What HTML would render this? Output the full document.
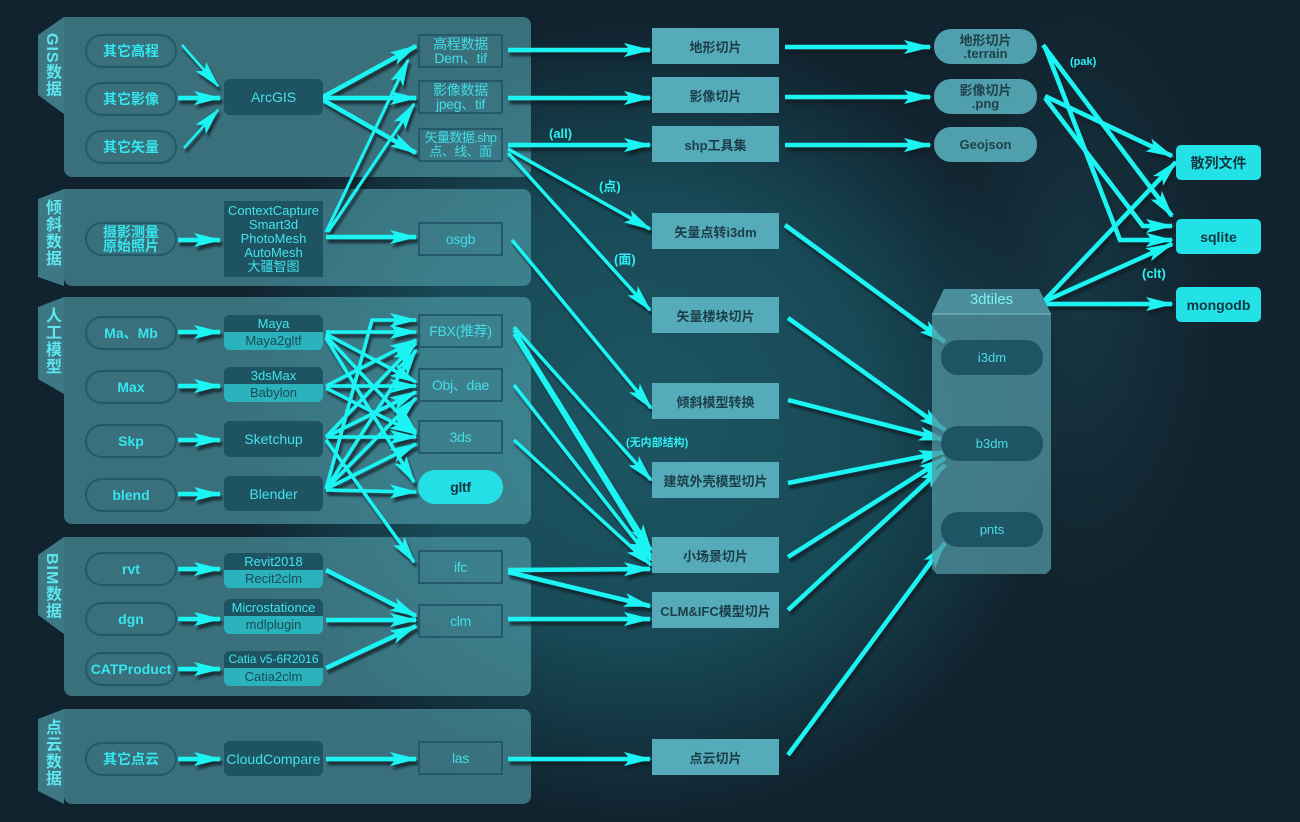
<!DOCTYPE html>
<html><head><meta charset="utf-8">
<style>
*{margin:0;padding:0;box-sizing:border-box}
body{width:1300px;height:822px;overflow:hidden;position:relative;font-family:"Liberation Sans","Noto Sans CJK SC",sans-serif;
background:radial-gradient(ellipse 420px 400px at 640px 420px,#1d5663 0%,#184a57 55%,#12303c 85%,#11232e 100%);}
.bg2{position:absolute;left:0;top:0;width:1300px;height:822px;background:radial-gradient(ellipse 200px 420px at 1080px 300px,rgba(30,90,105,0.35),rgba(0,0,0,0) 70%);}
.panel{position:absolute;left:64px;width:467px;background:rgba(82,160,172,0.62);border-radius:0 8px 8px 8px;}
.tab{position:absolute;left:38px;width:26px;}
.tab svg{position:absolute;left:0;top:0}
.tab span{position:absolute;left:0;width:26px;writing-mode:vertical-rl;text-orientation:mixed;color:#5fe6ef;font-weight:bold;font-size:16px;line-height:26px;text-align:center;letter-spacing:1px;white-space:nowrap}
.oval{position:absolute;left:85px;width:92px;height:34px;border:2.5px solid #23596a;border-radius:17px;color:#35e6ee;font-weight:bold;font-size:14px;display:flex;align-items:center;justify-content:center;text-align:center;line-height:14px}
.tool{position:absolute;left:224px;width:99px;background:#1e5362;border-radius:6px;color:#44e3ec;font-size:14px;display:flex;align-items:center;justify-content:center;text-align:center}
.split{position:absolute;left:224px;width:99px;height:35px;border-radius:6px;overflow:hidden;font-size:13px;text-align:center;white-space:nowrap}
.split .a{height:17px;background:#1e5362;color:#3fe6ee;line-height:17px}
.split .b{height:18px;background:#2ab3bd;color:#1b4a55;line-height:18px}
.fmt{position:absolute;left:418px;width:85px;height:34px;border:2px solid #23596a;color:#44dde6;font-size:14px;display:flex;align-items:center;justify-content:center;text-align:center;line-height:14px;white-space:nowrap;letter-spacing:-0.3px}
.mid{position:absolute;left:652px;width:127px;height:36px;background:#55abb9;color:#1b3d48;font-size:13px;display:flex;align-items:center;justify-content:center;font-weight:bold}
.p4{position:absolute;left:934px;width:103px;height:35px;background:#4f9fad;border-radius:17px;color:#1f3f49;font-size:13px;display:flex;align-items:center;justify-content:center;text-align:center;line-height:13px;font-weight:bold}
.rt{position:absolute;left:1176px;width:85px;height:35px;background:#22e2e7;border-radius:5px;color:#163640;font-size:14px;font-weight:bold;display:flex;align-items:center;justify-content:center}
.pd{position:absolute;left:941px;width:102px;height:35px;background:#1f5464;border-radius:17px;color:#48dce6;font-size:13px;display:flex;align-items:center;justify-content:center}
.lbl{position:absolute;color:#2ff0f5;font-size:13px;font-weight:bold}
</style></head><body>
<div class="bg2"></div>

<div class="panel" style="top:17px;height:160px"></div>
<div class="panel" style="top:189px;height:97px"></div>
<div class="panel" style="top:297px;height:227px"></div>
<div class="panel" style="top:537px;height:159px"></div>
<div class="panel" style="top:709px;height:95px"></div>

<div class="tab" style="top:17px;height:97px"><svg width="26" height="97"><polygon points="26,0 0,18 0,78 26,97" fill="#3d7884"/></svg><span style="top:16px">GIS数据</span></div>
<div class="tab" style="top:189px;height:97px"><svg width="26" height="97"><polygon points="26,0 0,10 0,88 26,97" fill="#3d7884"/></svg><span style="top:10px">倾斜数据</span></div>
<div class="tab" style="top:297px;height:97px"><svg width="26" height="97"><polygon points="26,0 0,10 0,82 26,97" fill="#3d7884"/></svg><span style="top:10px">人工模型</span></div>
<div class="tab" style="top:537px;height:97px"><svg width="26" height="97"><polygon points="26,0 0,18 0,78 26,97" fill="#3d7884"/></svg><span style="top:16px">BIM数据</span></div>
<div class="tab" style="top:709px;height:95px"><svg width="26" height="95"><polygon points="26,0 0,10 0,82 26,95" fill="#3d7884"/></svg><span style="top:10px">点云数据</span></div>

<svg style="position:absolute;left:0;top:0" width="1300" height="822">
<defs>
<marker id="a" markerUnits="userSpaceOnUse" markerWidth="28" markerHeight="16" refX="26" refY="8" orient="auto"><path d="M0,1 L28,8 L0,15 L6,8 Z" fill="#1ff4f4"/></marker>
<filter id="s" x="-10%" y="-10%" width="120%" height="120%"><feDropShadow dx="2" dy="4" stdDeviation="1" flood-color="#0a1a20" flood-opacity="0.75"/></filter>
</defs>
<g stroke="#1ff4f4" stroke-width="4.5" fill="none" marker-end="url(#a)" filter="url(#s)">
<line x1="182" y1="45" x2="218" y2="86" stroke-width="2.5"/>
<line x1="178" y1="98" x2="220" y2="98"/>
<line x1="184" y1="148" x2="218" y2="110" stroke-width="2.5"/>
<line x1="323" y1="97" x2="416" y2="46"/>
<line x1="323" y1="98" x2="416" y2="98"/>
<line x1="323" y1="100" x2="416" y2="153"/>
<line x1="326" y1="232" x2="408" y2="60" stroke-width="3"/>
<line x1="328" y1="232" x2="414" y2="104" stroke-width="3"/>
<line x1="326" y1="237" x2="416" y2="237"/>
<line x1="178" y1="240" x2="220" y2="240"/>
<line x1="508" y1="50" x2="650" y2="50"/>
<line x1="508" y1="98" x2="650" y2="98"/>
<line x1="508" y1="145" x2="650" y2="145"/>
<line x1="508" y1="149" x2="650" y2="229" stroke-width="3.5"/>
<line x1="508" y1="153" x2="650" y2="310" stroke-width="3.5"/>
<line x1="512" y1="240" x2="651" y2="408" stroke-width="3.5"/>
<line x1="785" y1="47" x2="930" y2="47"/>
<line x1="785" y1="97" x2="930" y2="97"/>
<line x1="785" y1="145" x2="930" y2="145"/>
<line x1="1043" y1="45" x2="1172" y2="216"/>
<polyline points="1045,47 1120,240 1172,240"/>
<line x1="1045" y1="96" x2="1172" y2="156"/>
<polyline points="1045,98 1143,226 1172,226"/>
<line x1="1043" y1="302" x2="1176" y2="162"/>
<line x1="1043" y1="302" x2="1172" y2="244"/>
<line x1="1043" y1="304" x2="1172" y2="304"/>
<line x1="785" y1="225" x2="945" y2="342"/>
<line x1="788" y1="318" x2="945" y2="430"/>
<line x1="788" y1="400" x2="945" y2="440"/>
<line x1="788" y1="483" x2="945" y2="452"/>
<line x1="788" y1="557" x2="945" y2="458"/>
<line x1="788" y1="610" x2="945" y2="465"/>
<line x1="788" y1="755" x2="945" y2="543"/>
<line x1="514" y1="327" x2="651" y2="480" stroke-width="3.5"/>
<line x1="514" y1="330" x2="651" y2="550" stroke-width="3.5"/>
<line x1="514" y1="334" x2="651" y2="556" stroke-width="3.5"/>
<line x1="514" y1="385" x2="651" y2="560" stroke-width="3.5"/>
<line x1="514" y1="440" x2="651" y2="565" stroke-width="3.5"/>
<line x1="508" y1="570" x2="650" y2="569"/>
<line x1="508" y1="572" x2="650" y2="606"/>
<line x1="508" y1="619" x2="650" y2="619"/>
<line x1="508" y1="759" x2="650" y2="759"/>
<line x1="178" y1="332" x2="220" y2="332"/>
<line x1="178" y1="386" x2="220" y2="386"/>
<line x1="178" y1="440" x2="220" y2="440"/>
<line x1="178" y1="494" x2="220" y2="494"/>
<line x1="178" y1="569" x2="220" y2="569"/>
<line x1="178" y1="619" x2="220" y2="619"/>
<line x1="178" y1="669" x2="220" y2="669"/>
<line x1="178" y1="759" x2="220" y2="759"/>
<line x1="326" y1="759" x2="416" y2="759"/>
<line x1="326" y1="570" x2="416" y2="616"/>
<line x1="326" y1="620" x2="416" y2="620"/>
<line x1="326" y1="668" x2="416" y2="626"/>
</g>
<g stroke="#1ff4f4" stroke-width="3.5" fill="none" marker-end="url(#a)" filter="url(#s)">
<line x1="326" y1="332" x2="416" y2="332"/>
<line x1="326" y1="334" x2="416" y2="382"/>
<line x1="326" y1="336" x2="416" y2="432"/>
<line x1="326" y1="338" x2="414" y2="482"/>
<line x1="326" y1="386" x2="416" y2="340"/>
<line x1="326" y1="386" x2="416" y2="386"/>
<line x1="326" y1="388" x2="416" y2="434"/>
<line x1="326" y1="437" x2="416" y2="343"/>
<line x1="326" y1="437" x2="416" y2="392"/>
<line x1="326" y1="437" x2="416" y2="437"/>
<line x1="326" y1="440" x2="414" y2="562"/>
<polyline points="326,489 372,320 416,320"/>
<line x1="326" y1="489" x2="416" y2="350"/>
<line x1="326" y1="489" x2="416" y2="398"/>
<line x1="326" y1="489" x2="416" y2="444"/>
<line x1="326" y1="490" x2="416" y2="492"/>
</g>
</svg>

<div class="lbl" style="left:549px;top:126px">(all)</div>
<div class="lbl" style="left:599px;top:176px">(点)</div>
<div class="lbl" style="left:614px;top:249px">(面)</div>
<div class="lbl" style="left:626px;top:434px;font-size:11px">(无内部结构)</div>
<div class="lbl" style="left:1070px;top:56px;font-size:11px">(pak)</div>
<div class="lbl" style="left:1142px;top:266px">(clt)</div>

<div class="oval" style="top:34px">其它高程</div>
<div class="oval" style="top:82px">其它影像</div>
<div class="oval" style="top:130px">其它矢量</div>
<div class="oval" style="top:222px">摄影测量<br>原始照片</div>
<div class="oval" style="top:316px">Ma、Mb</div>
<div class="oval" style="top:370px">Max</div>
<div class="oval" style="top:424px">Skp</div>
<div class="oval" style="top:478px">blend</div>
<div class="oval" style="top:552px">rvt</div>
<div class="oval" style="top:602px">dgn</div>
<div class="oval" style="top:652px">CATProduct</div>
<div class="oval" style="top:742px">其它点云</div>

<div class="tool" style="top:79px;height:36px">ArcGIS</div>
<div class="tool" style="top:201px;height:76px;border-radius:0;font-size:13px;line-height:14px">ContextCapture<br>Smart3d<br>PhotoMesh<br>AutoMesh<br>大疆智图</div>
<div class="split" style="top:315px"><div class="a">Maya</div><div class="b">Maya2gltf</div></div>
<div class="split" style="top:367px"><div class="a">3dsMax</div><div class="b">Babylon</div></div>
<div class="tool" style="top:421px;height:36px">Sketchup</div>
<div class="tool" style="top:476px;height:35px">Blender</div>
<div class="split" style="top:553px"><div class="a">Revit2018</div><div class="b">Recit2clm</div></div>
<div class="split" style="top:599px"><div class="a">Microstationce</div><div class="b">mdlplugin</div></div>
<div class="split" style="top:651px;font-size:12px"><div class="a">Catia v5-6R2016</div><div class="b" style="font-size:13px">Catia2clm</div></div>
<div class="tool" style="top:741px;height:35px">CloudCompare</div>

<div class="fmt" style="top:34px">高程数据<br>Dem、tif</div>
<div class="fmt" style="top:80px">影像数据<br>jpeg、tif</div>
<div class="fmt" style="top:128px;font-size:13px;letter-spacing:-0.6px">矢量数据.shp<br>点、线、面</div>
<div class="fmt" style="top:222px">osgb</div>
<div class="fmt" style="top:314px">FBX(推荐)</div>
<div class="fmt" style="top:368px">Obj、dae</div>
<div class="fmt" style="top:420px">3ds</div>
<div class="fmt" style="top:470px;border:none;background:#24e0e6;border-radius:17px;color:#143540;font-weight:bold">gltf</div>
<div class="fmt" style="top:550px">ifc</div>
<div class="fmt" style="top:604px">clm</div>
<div class="fmt" style="top:741px">las</div>

<div class="mid" style="top:28px">地形切片</div>
<div class="mid" style="top:77px">影像切片</div>
<div class="mid" style="top:126px">shp工具集</div>
<div class="mid" style="top:213px">矢量点转i3dm</div>
<div class="mid" style="top:297px">矢量楼块切片</div>
<div class="mid" style="top:383px">倾斜模型转换</div>
<div class="mid" style="top:462px">建筑外壳模型切片</div>
<div class="mid" style="top:537px">小场景切片</div>
<div class="mid" style="top:592px">CLM&amp;IFC模型切片</div>
<div class="mid" style="top:739px">点云切片</div>

<div class="p4" style="top:29px">地形切片<br>.terrain</div>
<div class="p4" style="top:79px">影像切片<br>.png</div>
<div class="p4" style="top:127px">Geojson</div>

<svg style="position:absolute;left:932px;top:289px" width="120" height="286">
<polygon points="12,0 107,0 119,25 119,280 114,285 5,285 0,280 0,25" fill="rgba(82,150,162,0.75)"/>
<polygon points="12,0 107,0 119,25 0,25" fill="#4b8e9b"/>
<line x1="0" y1="25" x2="119" y2="25" stroke="#7fc3cc" stroke-width="1"/>
</svg>
<div style="position:absolute;left:932px;top:291px;width:119px;text-align:center;color:#7ef0f5;font-size:15px">3dtiles</div>
<div class="pd" style="top:340px">i3dm</div>
<div class="pd" style="top:426px">b3dm</div>
<div class="pd" style="top:512px">pnts</div>

<div class="rt" style="top:145px">散列文件</div>
<div class="rt" style="top:219px">sqlite</div>
<div class="rt" style="top:287px">mongodb</div>
</body></html>
